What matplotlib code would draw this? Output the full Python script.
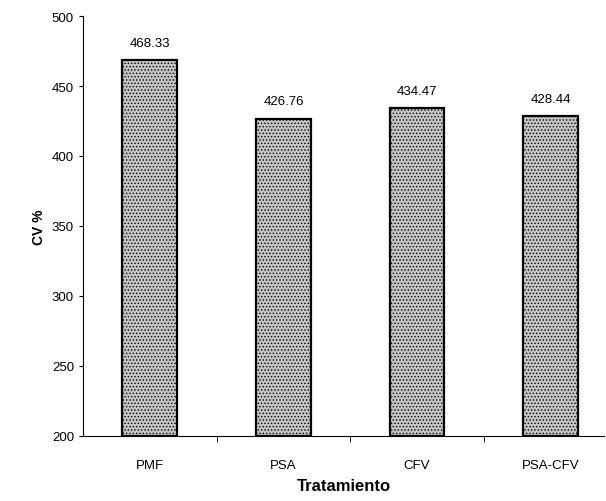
import matplotlib
matplotlib.use("Agg")
import matplotlib.pyplot as plt

plt.rcParams['font.family'] = ['Liberation Sans', 'DejaVu Sans']
plt.rcParams['hatch.color'] = '#9a9a9a'
plt.rcParams['hatch.linewidth'] = 0.6

tratamientos = ["PMF", "PSA", "CFV", "PSA-CFV"]
cv = [468.33, 426.76, 434.47, 428.44]
etiquetas = ["468.33", "426.76", "434.47", "428.44"]

fig = plt.figure(figsize=(6.06, 5.02), dpi=100)
ax = fig.add_axes([0.137, 0.13, 0.86, 0.836])

x = range(len(tratamientos))
ax.bar(x, [v - 200 for v in cv], bottom=200, width=0.41, color='#c4c4c4',
       edgecolor='black', linewidth=1.6, hatch='.....')

for i, (v, t) in enumerate(zip(cv, etiquetas)):
    ax.text(i, v + 8, t, ha='center', va='bottom', fontsize=9.5)

ax.set_xlim(-0.5, 3.4)
ax.set_ylim(200, 500)
ax.set_yticks(range(200, 501, 50))
ax.set_xticks(list(x))
ax.set_xticklabels(tratamientos, fontsize=9.5)
ax.tick_params(axis='x', length=0, pad=17)
ax.set_xticks([0.5, 1.5, 2.5], minor=True)
ax.tick_params(axis='x', which='minor', length=4, direction='out')
ax.tick_params(axis='y', labelsize=9.5, length=3, direction='out')

for s in ['top', 'right']:
    ax.spines[s].set_visible(False)

ax.set_ylabel("CV %", fontsize=10, fontweight='bold')
ax.set_xlabel("Tratamiento", fontsize=12, fontweight='bold', labelpad=5)

fig.savefig("out.png", dpi=100)
